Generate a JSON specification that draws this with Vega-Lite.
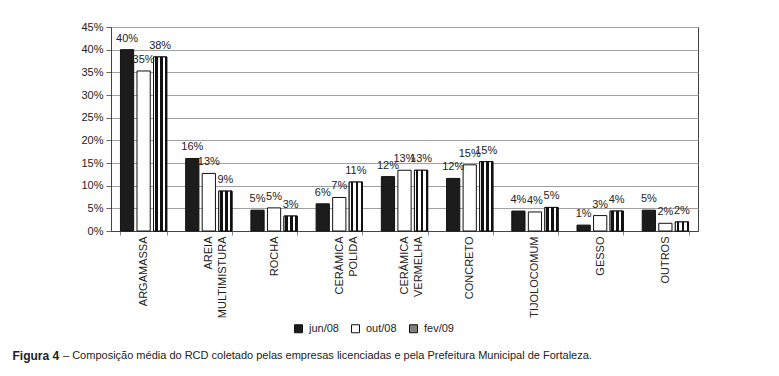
{
  "$schema": "https://vega.github.io/schema/vega-lite/v6.json",
  "width": 587,
  "height": 204,
  "autosize": {"type": "none"},
  "padding": {"left": 111, "top": 27, "right": 81, "bottom": 145},
  "background": "white",
  "config": {
    "font": "Liberation Sans",
    "view": {"stroke": "#444", "strokeWidth": 1},
    "axis": {"labelFont": "Liberation Sans", "labelFontSize": 11, "labelColor": "#222"}
  },
  "title": {
    "text": "– Composição média do RCD coletado pelas empresas licenciadas e pela Prefeitura Municipal de Fortaleza.",
    "orient": "bottom",
    "anchor": "start",
    "frame": "group",
    "font": "Liberation Sans",
    "fontSize": 11,
    "fontWeight": "normal",
    "color": "#222",
    "dx": -48,
    "offset": 20,
    "dy": -31
  },
  "data": {
    "values": [
      {"cat": "ARGAMASSA", "series": "jun/08", "value": 0.400},
      {"cat": "ARGAMASSA", "series": "out/08", "value": 0.353},
      {"cat": "ARGAMASSA", "series": "fev/09", "value": 0.384},
      {"cat": "AREIA|MULTIMISTURA", "series": "jun/08", "value": 0.160},
      {"cat": "AREIA|MULTIMISTURA", "series": "out/08", "value": 0.127},
      {"cat": "AREIA|MULTIMISTURA", "series": "fev/09", "value": 0.088},
      {"cat": "ROCHA", "series": "jun/08", "value": 0.046},
      {"cat": "ROCHA", "series": "out/08", "value": 0.051},
      {"cat": "ROCHA", "series": "fev/09", "value": 0.033},
      {"cat": "CERÂMICA|POLIDA", "series": "jun/08", "value": 0.060},
      {"cat": "CERÂMICA|POLIDA", "series": "out/08", "value": 0.074},
      {"cat": "CERÂMICA|POLIDA", "series": "fev/09", "value": 0.108},
      {"cat": "CERÂMICA|VERMELHA", "series": "jun/08", "value": 0.120},
      {"cat": "CERÂMICA|VERMELHA", "series": "out/08", "value": 0.134},
      {"cat": "CERÂMICA|VERMELHA", "series": "fev/09", "value": 0.134},
      {"cat": "CONCRETO", "series": "jun/08", "value": 0.116},
      {"cat": "CONCRETO", "series": "out/08", "value": 0.146},
      {"cat": "CONCRETO", "series": "fev/09", "value": 0.153},
      {"cat": "TIJOLOCOMUM", "series": "jun/08", "value": 0.044},
      {"cat": "TIJOLOCOMUM", "series": "out/08", "value": 0.042},
      {"cat": "TIJOLOCOMUM", "series": "fev/09", "value": 0.052},
      {"cat": "GESSO", "series": "jun/08", "value": 0.013},
      {"cat": "GESSO", "series": "out/08", "value": 0.034},
      {"cat": "GESSO", "series": "fev/09", "value": 0.044},
      {"cat": "OUTROS", "series": "jun/08", "value": 0.046},
      {"cat": "OUTROS", "series": "out/08", "value": 0.017},
      {"cat": "OUTROS", "series": "fev/09", "value": 0.020}
    ]
  },
  "encoding": {
    "x": {
      "field": "cat",
      "type": "nominal",
      "sort": null,
      "scale": {"paddingInner": 0.29, "paddingOuter": 0.145},
      "axis": {
        "labelAngle": -90,
        "labelAlign": "right",
        "labelBaseline": "middle",
        "labelExpr": "split(datum.label, '|')",
        "labelLineHeight": 14,
        "labelPadding": 1,
        "tickBand": "extent",
        "tickSize": 4,
        "tickColor": "#888",
        "domainColor": "#444",
        "title": "Figura 4",
        "titleX": -99,
        "titleY": 124,
        "titleAlign": "left",
        "titleBaseline": "middle",
        "titleFont": "Liberation Sans",
        "titleFontSize": 12,
        "titleFontWeight": "bold",
        "titleColor": "#222"
      }
    },
    "xOffset": {
      "field": "series",
      "type": "nominal",
      "scale": {"domain": ["jun/08", "out/08", "fev/09"], "paddingInner": 0.2, "paddingOuter": 0}
    },
    "y": {
      "field": "value",
      "type": "quantitative",
      "scale": {"domain": [0, 0.45], "nice": false},
      "axis": {
        "values": [0, 0.05, 0.1, 0.15, 0.2, 0.25, 0.3, 0.35, 0.4, 0.45],
        "format": ".0%",
        "title": null,
        "grid": true,
        "gridColor": "#a0a0a0",
        "tickSize": 5,
        "tickColor": "#666",
        "domainColor": "#444",
        "labelPadding": 3
      }
    }
  },
  "layer": [
    {
      "mark": {"type": "bar", "stroke": "#111", "strokeWidth": 1},
      "encoding": {
        "fill": {
          "field": "series",
          "type": "nominal",
          "scale": {"domain": ["jun/08", "out/08", "fev/09"], "range": ["#1c1c1c", "#ffffff", "#808080"]},
          "legend": {
            "orient": "none",
            "legendX": 182,
            "legendY": 296,
            "direction": "horizontal",
            "title": null,
            "padding": 0,
            "symbolType": "square",
            "symbolSize": 64,
            "symbolStrokeColor": "#111",
            "symbolStrokeWidth": 1,
            "symbolOpacity": 1,
            "labelFont": "Liberation Sans",
            "labelFontSize": 11,
            "labelColor": "#222",
            "labelOffset": 5,
            "columnPadding": 10
          }
        }
      }
    },
    {
      "transform": [{"filter": "datum.series === 'fev/09'"}],
      "mark": {
        "type": "bar",
        "stroke": "#111",
        "strokeWidth": 1,
        "fill": {
          "gradient": "linear",
          "x1": 0, "y1": 0, "x2": 1, "y2": 0,
          "stops": [
            {"offset": 0, "color": "#ffffff"},
            {"offset": 0.1, "color": "#ffffff"},
            {"offset": 0.1, "color": "#111111"},
            {"offset": 0.3, "color": "#111111"},
            {"offset": 0.3, "color": "#ffffff"},
            {"offset": 0.48, "color": "#ffffff"},
            {"offset": 0.48, "color": "#111111"},
            {"offset": 0.68, "color": "#111111"},
            {"offset": 0.68, "color": "#ffffff"},
            {"offset": 0.86, "color": "#ffffff"},
            {"offset": 0.86, "color": "#111111"},
            {"offset": 1, "color": "#111111"}
          ]
        }
      }
    },
    {
      "mark": {"type": "text", "baseline": "middle", "dy": -11, "fontSize": 11, "color": "#222", "font": "Liberation Sans"},
      "encoding": {
        "text": {"field": "value", "type": "quantitative", "format": ".0%"}
      }
    }
  ]
}
